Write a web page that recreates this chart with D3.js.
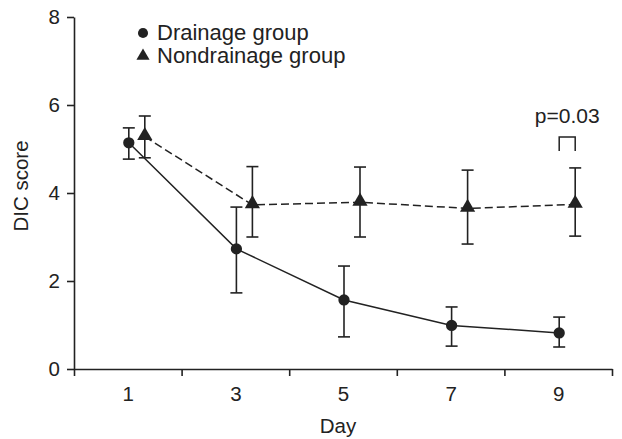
<!DOCTYPE html>
<html>
<head>
<meta charset="utf-8">
<script src="https://cdn.jsdelivr.net/npm/d3@7"></script>
<style>
  body { margin: 0; background: #fff; }
  text { font-family: "Liberation Sans", Arial, Helvetica, sans-serif; fill: #222; }
</style>
</head>
<body>
<svg></svg>
<script>
var width = 622;
var height = 439;

// days on x axis
var days = [1, 3, 5, 7, 9];
// drainage group: mean and error bar ends
var drainMean = [5.14, 2.73, 1.57, 0.99, 0.82];
var drainHigh = [5.48, 3.68, 2.34, 1.41, 1.18];
var drainLow  = [4.77, 1.73, 0.73, 0.52, 0.50];
// nondrainage group
var nonMean = [5.28, 3.73, 3.79, 3.65, 3.74];
var nonHigh = [5.75, 4.60, 4.59, 4.52, 4.57];
var nonLow  = [4.80, 3.00, 3.00, 2.84, 3.02];
var yTicks = [0, 2, 4, 6, 8];
var xTickMarks = [0, 2, 4, 6, 8, 10];

var drainData = days.map(function(d, i) {
    return {day: d, mean: drainMean[i], hi: drainHigh[i], lo: drainLow[i]};
});
var nonData = days.map(function(d, i) {
    return {day: d, mean: nonMean[i], hi: nonHigh[i], lo: nonLow[i]};
});

var xScale = d3.scaleLinear().domain([0, 10]).range([74, 612]);
var yScale = d3.scaleLinear().domain([0, 8]).range([369, 17]);

var svg = d3.select("svg")
    .attr("width", width)
    .attr("height", height);

var ink = "#222";

// y axis
var yAxis = d3.axisLeft(yScale)
    .tickValues(yTicks)
    .tickSize(7)
    .tickSizeOuter(0)
    .tickPadding(7);
var gy = svg.append("g")
    .attr("transform", "translate(" + xScale(0) + ",0)")
    .call(yAxis);

// x axis: tick marks at even values, labels at odd days
var xAxisMarks = d3.axisBottom(xScale)
    .tickValues(xTickMarks)
    .tickSize(7)
    .tickSizeOuter(0)
    .tickFormat("");
var gx = svg.append("g")
    .attr("transform", "translate(0," + yScale(0) + ")")
    .call(xAxisMarks);
var xAxisLabels = d3.axisBottom(xScale)
    .tickValues(days)
    .tickSize(0)
    .tickPadding(17)
    .tickFormat(d3.format("d"));
var gx2 = svg.append("g")
    .attr("transform", "translate(0," + yScale(0) + ")")
    .call(xAxisLabels);
gx2.select(".domain").remove();

[gy, gx, gx2].forEach(function(g) {
    g.selectAll("path, line").attr("stroke", ink).attr("stroke-width", 1.6);
    g.selectAll("text").style("font-size", "20.5px").attr("fill", ink);
});

// axis titles
svg.append("text")
    .attr("x", 338)
    .attr("y", 433)
    .style("text-anchor", "middle")
    .style("font-size", "20.5px")
    .text("Day");

svg.append("text")
    .attr("transform", "rotate(-90)")
    .attr("x", -186)
    .attr("y", 28)
    .style("text-anchor", "middle")
    .style("font-size", "20.5px")
    .text("DIC score");

// offsets so the two groups do not overlap
var drainOff = 1;
var nonOff = 17;
var cap = 6;

function drawGroup(data, off, dashed) {
    var g = svg.append("g");
    var line = d3.line()
        .x(function(d) { return xScale(d.day) + off; })
        .y(function(d) { return yScale(d.mean); });
    g.append("path")
        .datum(data)
        .attr("d", line)
        .attr("fill", "none")
        .attr("stroke", ink)
        .attr("stroke-width", 1.5)
        .attr("stroke-dasharray", dashed ? "8,4" : null);
    var eb = g.selectAll(".eb").data(data).enter().append("g");
    eb.append("line")
        .attr("x1", function(d) { return xScale(d.day) + off; })
        .attr("x2", function(d) { return xScale(d.day) + off; })
        .attr("y1", function(d) { return yScale(d.hi); })
        .attr("y2", function(d) { return yScale(d.lo); });
    eb.append("line")
        .attr("x1", function(d) { return xScale(d.day) + off - cap; })
        .attr("x2", function(d) { return xScale(d.day) + off + cap; })
        .attr("y1", function(d) { return yScale(d.hi); })
        .attr("y2", function(d) { return yScale(d.hi); });
    eb.append("line")
        .attr("x1", function(d) { return xScale(d.day) + off - cap; })
        .attr("x2", function(d) { return xScale(d.day) + off + cap; })
        .attr("y1", function(d) { return yScale(d.lo); })
        .attr("y2", function(d) { return yScale(d.lo); });
    eb.selectAll("line").attr("stroke", ink).attr("stroke-width", 1.6);
    return g;
}

var gDrain = drawGroup(drainData, drainOff, false);
var gNon = drawGroup(nonData, nonOff, true);

var circleSym = d3.symbol().type(d3.symbolCircle).size(100);
var triSym = d3.symbol().type(d3.symbolTriangle).size(100);

gDrain.selectAll(".pt").data(drainData).enter().append("path")
    .attr("d", circleSym)
    .attr("transform", function(d) {
        return "translate(" + (xScale(d.day) + drainOff) + "," + yScale(d.mean) + ")";
    })
    .attr("fill", ink);

gNon.selectAll(".pt").data(nonData).enter().append("path")
    .attr("d", triSym)
    .attr("transform", function(d) {
        return "translate(" + (xScale(d.day) + nonOff) + "," + (yScale(d.mean) - 1) + ")";
    })
    .attr("fill", ink);

// legend
var legend = svg.append("g");
legend.append("path")
    .attr("d", d3.symbol().type(d3.symbolCircle).size(80))
    .attr("transform", "translate(143,33)")
    .attr("fill", ink);
legend.append("text")
    .attr("x", 157)
    .attr("y", 40)
    .style("font-size", "22px")
    .text("Drainage group");
legend.append("path")
    .attr("d", d3.symbol().type(d3.symbolTriangle).size(75))
    .attr("transform", "translate(143,56)")
    .attr("fill", ink);
legend.append("text")
    .attr("x", 157)
    .attr("y", 63)
    .style("font-size", "22px")
    .text("Nondrainage group");

// significance bracket at day 9
var last = days.length - 1;
var bx1 = xScale(days[last]) + drainOff;
var bx2 = xScale(days[last]) + nonOff;
svg.append("path")
    .attr("d", "M" + bx1 + ",151V137H" + bx2 + "V151")
    .attr("fill", "none")
    .attr("stroke", ink)
    .attr("stroke-width", 1.5);
svg.append("text")
    .attr("x", (bx1 + bx2) / 2)
    .attr("y", 123)
    .style("text-anchor", "middle")
    .style("font-size", "21px")
    .text("p=0.03");
</script>
</body>
</html>
